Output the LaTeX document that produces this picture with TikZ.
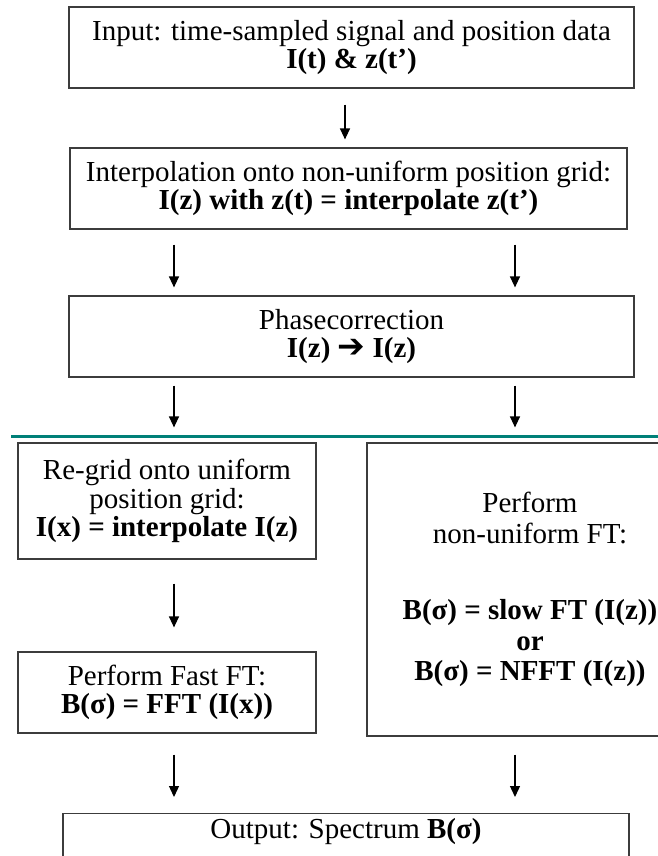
\documentclass[tikz,border=0pt]{standalone}
\usepackage{fontspec}
\setmainfont{Liberation Serif}
\newfontfamily\symfont{DejaVu Sans}
\usetikzlibrary{arrows.meta}
\definecolor{tealline}{RGB}{0,128,120}
\definecolor{boxline}{RGB}{60,60,60}
\begin{document}
\begin{tikzpicture}[x=1pt,y=-1pt,
  box/.style={draw=boxline, line width=1.2pt, inner sep=0pt, align=center,
    font=\fontsize{29}{28.5}\selectfont},
  arr/.style={-{Triangle[width=10pt,length=11pt]}, line width=1.3pt}
]
\useasboundingbox (0,0) rectangle (658,856);
\clip (0,0) rectangle (658,856);

\coordinate (cM) at (345,0);
\coordinate (cL) at (174,0);
\coordinate (cR) at (515,0);

\node[box, minimum width=565pt, minimum height=81pt] (input) at (351.5,47.5)
  {Input: time-sampled signal and position data\\\textbf{I(t) \& z(t’)}};
\node[box, minimum width=557pt, minimum height=81pt] (interp) at (348.5,188.5)
  {Interpolation onto non-uniform position grid:\\\textbf{I(z) with z(t) = interpolate z(t’)}};
\node[box, minimum width=565pt, minimum height=81pt] (phase) at (351.5,336.5)
  {Phasecorrection\\\textbf{I(z) {\symfont\fontsize{33}{28}\selectfont ➔} I(z)}};
\node[box, minimum width=298pt, minimum height=116pt] (regrid) at (167,501)
  {Re-grid onto uniform\\position grid:\\\textbf{I(x) = interpolate I(z)}};
\node[box, minimum width=298pt, minimum height=81pt] (fft) at (167,692.5)
  {Perform Fast FT:\\\textbf{B(σ) = FFT (I(x))}};
\node[box, minimum width=326pt, minimum height=293pt, font=\fontsize{29}{30.5}\selectfont] (nuft) at (530,589.5)
  {Perform\\non-uniform FT:\\[46pt]\textbf{B(σ) = slow FT (I(z))}\\\textbf{or}\\\textbf{B(σ) = NFFT (I(z))}};
\node[box, minimum width=566pt, text height=25pt, text depth=35pt, anchor=north] (out) at (346,813)
  {Output: Spectrum \textbf{B(σ)}};

\draw[tealline, line width=2.5pt] (11,436.5) -- (658,436.5);
\draw[boxline, line width=0.8pt] (430,442.5) -- (658,442.5);

\draw[arr, shorten <=16pt, shorten >=8pt] (input.south -| cM) -- (interp.north -| cM);
\draw[arr, shorten <=15pt, shorten >=8pt] (interp.south -| cL) -- (phase.north -| cL);
\draw[arr, shorten <=15pt, shorten >=8pt] (interp.south -| cR) -- (phase.north -| cR);
\draw[arr, shorten <=8pt, shorten >=15pt] (phase.south -| cL) -- (regrid.north -| cL);
\draw[arr, shorten <=8pt, shorten >=15pt] (phase.south -| cR) -- (nuft.north -| cR);
\draw[arr, shorten <=24pt, shorten >=24pt] (regrid.south -| cL) -- (fft.north -| cL);
\draw[arr, shorten <=21pt, shorten >=16pt] (fft.south -| cL) -- (out.north -| cL);
\draw[arr, shorten <=18pt, shorten >=16pt] (nuft.south -| cR) -- (out.north -| cR);
\end{tikzpicture}
\end{document}
